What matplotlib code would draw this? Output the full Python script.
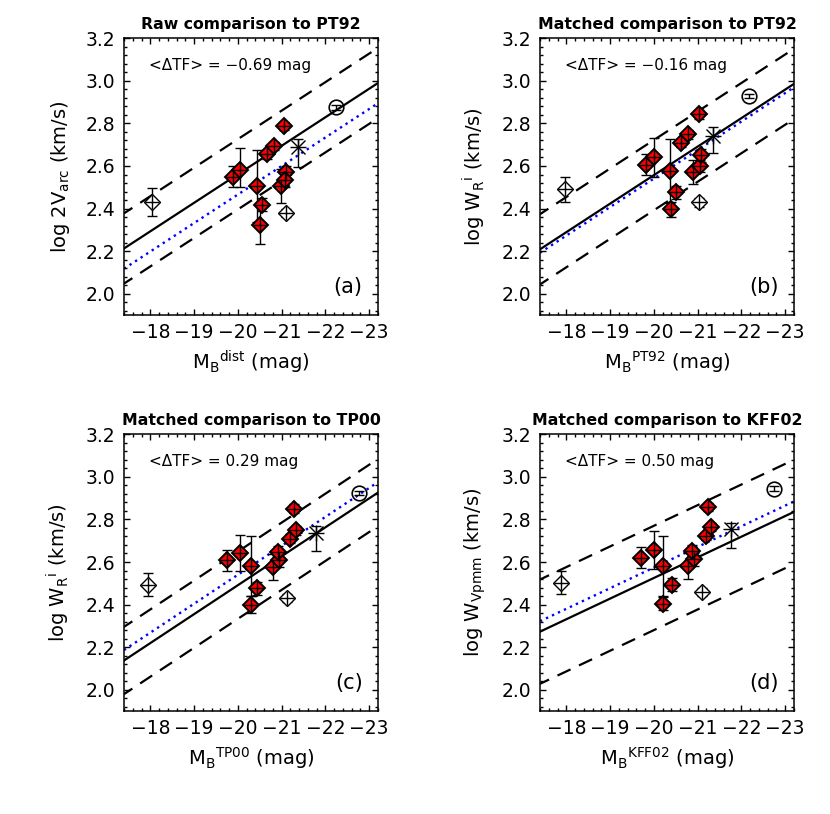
"""Tully-Fisher comparison panels: four reference relations, same galaxy sample."""

import matplotlib

matplotlib.use("Agg")
import matplotlib.pyplot as plt
import numpy as np

# point kinds, same order in every panel
KIND = ["open"] + ["red"] * 11 + ["open", "star", "circle"]

# panel (a): raw comparison to PT92
MAG_A = [-18.03, -19.90, -20.06, -20.43, -20.54, -20.50, -20.66, -20.82, -21.05,
         -20.98, -21.11, -21.08, -21.09, -21.38, -22.24]
LOGV_A = [2.431, 2.549, 2.583, 2.507, 2.419, 2.322, 2.655, 2.693, 2.787,
          2.507, 2.572, 2.533, 2.380, 2.687, 2.875]
ELO_A = [0.065, 0.05, 0.08, 0.17, 0.03, 0.09, 0.02, 0.02, 0.02, 0.08, 0.03, 0.03, 0.02, 0.09, 0.01]
EHI_A = [0.065, 0.05, 0.10, 0.17, 0.03, 0.09, 0.02, 0.02, 0.02, 0.08, 0.03, 0.03, 0.02, 0.04, 0.01]

# panel (b): matched comparison to PT92
MAG_B = [-17.97, -19.81, -20.00, -20.38, -20.50, -20.40, -20.61, -20.78, -21.03,
         -20.90, -21.05, -21.07, -21.03, -21.36, -22.18]
LOGV_B = [2.490, 2.607, 2.640, 2.577, 2.476, 2.397, 2.708, 2.748, 2.843,
          2.572, 2.600, 2.651, 2.429, 2.741, 2.928]
ELO_B = [0.057, 0.05, 0.09, 0.15, 0.03, 0.036, 0.02, 0.02, 0.02, 0.055, 0.03, 0.03, 0.02, 0.08, 0.01]
EHI_B = [0.057, 0.05, 0.09, 0.15, 0.03, 0.036, 0.02, 0.02, 0.02, 0.055, 0.03, 0.03, 0.02, 0.04, 0.01]

# panel (c): matched comparison to TP00
MAG_C = [-17.95, -19.76, -20.06, -20.29, -20.44, -20.29, -21.20, -21.33, -21.28,
         -20.81, -20.94, -20.92, -21.13, -21.79, -22.77]
LOGV_C = [2.494, 2.608, 2.643, 2.582, 2.476, 2.400, 2.710, 2.749, 2.851,
          2.577, 2.608, 2.647, 2.431, 2.737, 2.925]
ELO_C = [0.055, 0.05, 0.085, 0.14, 0.03, 0.04, 0.02, 0.02, 0.02, 0.06, 0.03, 0.03, 0.02, 0.084, 0.01]
EHI_C = [0.055, 0.05, 0.085, 0.14, 0.03, 0.04, 0.02, 0.02, 0.02, 0.06, 0.03, 0.03, 0.02, 0.034, 0.01]

# panel (d): matched comparison to KFF02
MAG_D = [-17.88, -19.71, -20.00, -20.21, -20.41, -20.21, -21.18, -21.30, -21.24,
         -20.78, -20.92, -20.88, -21.09, -21.76, -22.75]
LOGV_D = [2.503, 2.620, 2.655, 2.582, 2.494, 2.405, 2.723, 2.765, 2.859,
          2.582, 2.612, 2.651, 2.458, 2.754, 2.945]
ELO_D = [0.055, 0.05, 0.09, 0.14, 0.03, 0.03, 0.02, 0.02, 0.02, 0.06, 0.03, 0.03, 0.02, 0.09, 0.01]
EHI_D = [0.055, 0.05, 0.09, 0.14, 0.03, 0.03, 0.02, 0.02, 0.02, 0.06, 0.03, 0.03, 0.02, 0.03, 0.01]

# relations: value at M=-20, slope per mag, scatter band
FIT_AT20 = [2.561, 2.557, 2.491, 2.525]
REF_AT20 = [2.466, 2.541, 2.540, 2.574]
SLOPE = [-0.134, -0.134, -0.136, -0.097]
BAND = [0.165, 0.165, 0.158, 0.245]

TITLES = ["Raw comparison to PT92", "Matched comparison to PT92",
          "Matched comparison to TP00", "Matched comparison to KFF02"]
DELTA_TF = ["\u22120.69", "\u22120.16", "0.29", "0.50"]
TAGS = ["(a)", "(b)", "(c)", "(d)"]
YLABELS = [r"log 2V$_\mathregular{arc}$ (km/s)",
           r"log W$_\mathregular{R}$$^\mathregular{i}$ (km/s)",
           r"log W$_\mathregular{R}$$^\mathregular{i}$ (km/s)",
           r"log W$_\mathregular{Vpmm}$ (km/s)"]
XLABELS = [r"M$_\mathregular{B}$$^\mathregular{dist}$ (mag)",
           r"M$_\mathregular{B}$$^\mathregular{PT92}$ (mag)",
           r"M$_\mathregular{B}$$^\mathregular{TP00}$ (mag)",
           r"M$_\mathregular{B}$$^\mathregular{KFF02}$ (mag)"]

PANELS = [(MAG_A, LOGV_A, ELO_A, EHI_A), (MAG_B, LOGV_B, ELO_B, EHI_B),
          (MAG_C, LOGV_C, ELO_C, EHI_C), (MAG_D, LOGV_D, ELO_D, EHI_D)]
POSITIONS = [[0.1494, 0.613, 0.306, 0.340], [0.6506, 0.613, 0.306, 0.340],
             [0.1494, 0.1265, 0.306, 0.340], [0.6506, 0.1265, 0.306, 0.340]]


def draw_panel(ax, i):
    mag, logv, elo, ehi = (np.asarray(a) for a in PANELS[i])
    kind = np.asarray(KIND)
    ax.set_xlim(-17.4, -23.2)
    ax.set_ylim(1.9, 3.2)

    xx = np.array(ax.get_xlim())
    fit = FIT_AT20[i] + SLOPE[i] * (xx + 20)
    ref = REF_AT20[i] + SLOPE[i] * (xx + 20)
    ax.plot(xx, fit, color="black", lw=1.6, zorder=1)
    for sgn in (1, -1):
        ax.plot(xx, fit + sgn * BAND[i], color="black", lw=1.6,
                linestyle=(2, (6.5, 4.2)), zorder=1)
    ax.plot(xx, ref, color="blue", lw=1.7, linestyle=(0, (1, 1.8)), zorder=1)

    ax.errorbar(mag, logv, yerr=[elo, ehi], fmt="none", ecolor="black",
                elinewidth=1, capsize=3.8, capthick=1, zorder=2)

    red = kind == "red"
    ax.plot(mag[red], logv[red], "D", ms=7.8, mfc="red", mec="black", mew=1.4, zorder=3)
    ax.plot(mag[red], logv[red], "+", ms=9.5, color="black", mew=1, zorder=4)
    op = kind == "open"
    ax.plot(mag[op], logv[op], "D", ms=7.8, mfc="white", mec="black", mew=1, zorder=3)
    ax.plot(mag[op], logv[op], "+", ms=9.5, color="black", mew=1, zorder=4)
    st = kind == "star"
    ax.plot(mag[st], logv[st], "x", ms=10, color="black", mew=1, zorder=4)
    ax.plot(mag[st], logv[st], "+", ms=12, color="black", mew=1, zorder=4)
    ci = kind == "circle"
    ax.plot(mag[ci], logv[ci], "o", ms=10.5, mfc="none", mec="black", mew=1.2, zorder=4)

    ax.set_xticks(np.arange(-18, -24, -1))
    ax.set_yticks(np.arange(2.0, 3.21, 0.2))
    ax.set_xticks(np.arange(-17.4, -23.21, -0.2), minor=True)
    ax.set_yticks(np.arange(1.92, 3.2, 0.04), minor=True)
    ax.yaxis.set_major_formatter(matplotlib.ticker.FormatStrFormatter("%.1f"))
    ax.tick_params(which="both", direction="in", top=True, right=True, width=1)
    ax.tick_params(which="major", length=4.5, labelsize=13.5, pad=6)
    ax.tick_params(which="minor", length=2.2)
    for sp in ax.spines.values():
        sp.set_linewidth(1.1)

    ax.set_title(TITLES[i], fontsize=11.3, fontweight="bold", pad=7)
    ax.text(0.10, 0.90, f"<\u0394TF> = {DELTA_TF[i]} mag", transform=ax.transAxes,
            fontsize=11, va="center", ha="left")
    ax.text(0.94, 0.10, TAGS[i], transform=ax.transAxes, fontsize=15,
            va="center", ha="right")
    ax.set_ylabel(YLABELS[i], fontsize=14, labelpad=10)
    ax.set_xlabel(XLABELS[i], fontsize=14, labelpad=5)


fig = plt.figure(figsize=(8.3, 8.14), dpi=100)
for i, pos in enumerate(POSITIONS):
    draw_panel(fig.add_axes(pos), i)
fig.savefig("out.png", dpi=100)
